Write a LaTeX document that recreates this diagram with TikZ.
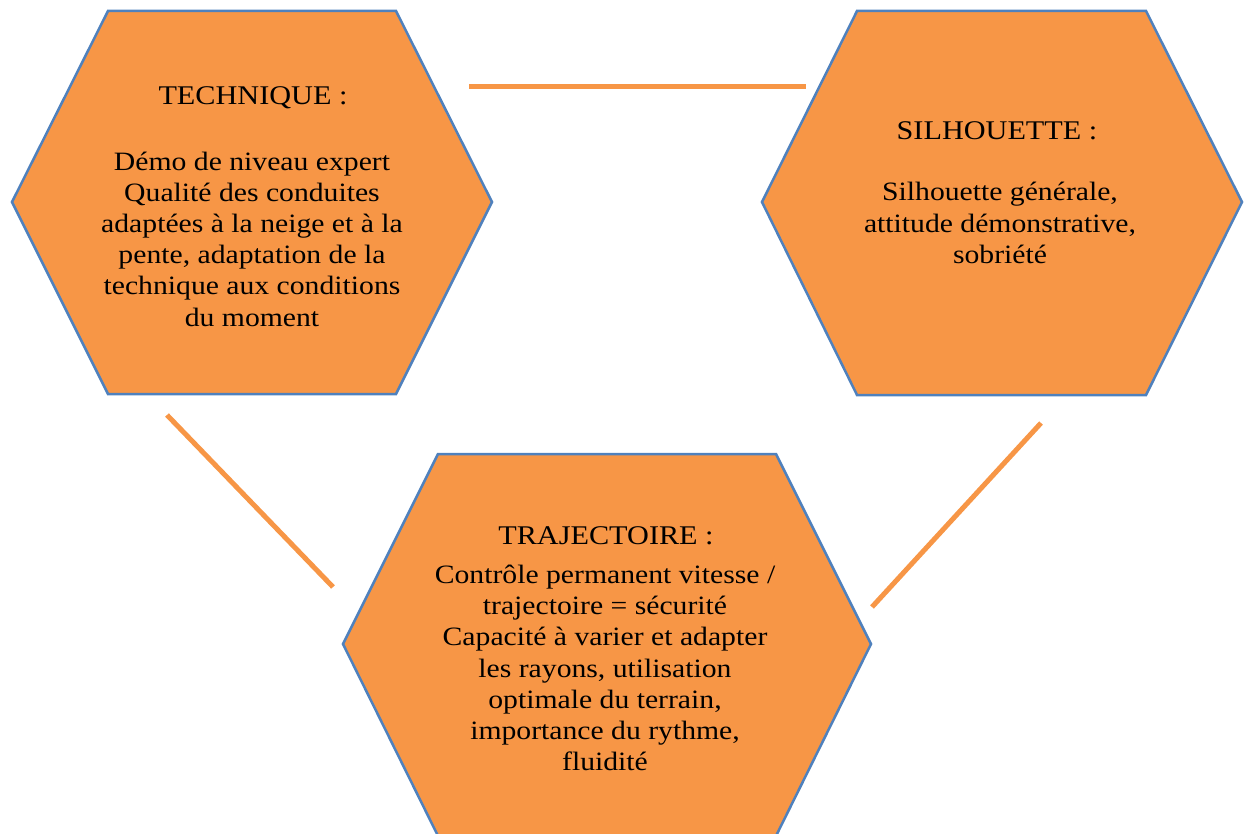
\documentclass[tikz,border=0pt]{standalone}
\usepackage{fontspec}
\setmainfont[FakeStretch=1.12]{Liberation Serif}
\definecolor{hexfill}{HTML}{F79646}
\definecolor{hexline}{HTML}{4F81BD}
\begin{document}
\begin{tikzpicture}[x=1pt,y=-1pt,
  hexa/.style={fill=hexfill,draw=hexline,line width=2.5pt,line join=miter},
  link/.style={draw=hexfill,line width=5pt},
  ttl/.style={font=\fontsize{27}{32}\selectfont,align=center,inner sep=0pt},
  bodytxt/.style={font=\fontsize{26.5}{31.2}\selectfont,align=center,inner sep=0pt}]
\useasboundingbox (0,0) rectangle (1249,834);
% hexagons
\path[hexa] (12,202) -- (108,11) -- (396,11) -- (492,202) -- (396,394) -- (108,394) -- cycle;
\path[hexa] (762,202) -- (857,11) -- (1146,11) -- (1242,202) -- (1146,395) -- (857,395) -- cycle;
\path[hexa] (343,644) -- (438,454) -- (776,454) -- (871,644) -- (775,838) -- (439,838) -- cycle;
% texts
\node[ttl] (techT) at (253,98) {TECHNIQUE :};
\node[bodytxt] (techB) at (252,239) {Démo de niveau expert\\Qualité des conduites\\adaptées à la neige et à la\\pente, adaptation de la\\technique aux conditions\\du moment};
\node[ttl] (silT) at (997,131) {SILHOUETTE :};
\node[bodytxt] (silB) at (1000,223) {Silhouette générale,\\attitude démonstrative,\\sobriété};
\node[ttl] (traT) at (606,536) {TRAJECTOIRE :};
\node[bodytxt] (traB) at (605,668) {Contrôle permanent vitesse /\\trajectoire = sécurité\\Capacité à varier et adapter\\les rayons, utilisation\\optimale du terrain,\\importance du rythme,\\fluidité};
% connectors
\coordinate (a1) at (469,87);
\coordinate (a2) at (806,87);
\coordinate (b1) at (167,415);
\coordinate (b2) at (333,587);
\coordinate (c1) at (1041,423);
\coordinate (c2) at (872,607);
\draw[link] (a1) -- (a2);
\draw[link] (b1) -- (b2);
\draw[link] (c1) -- (c2);
\end{tikzpicture}
\end{document}
